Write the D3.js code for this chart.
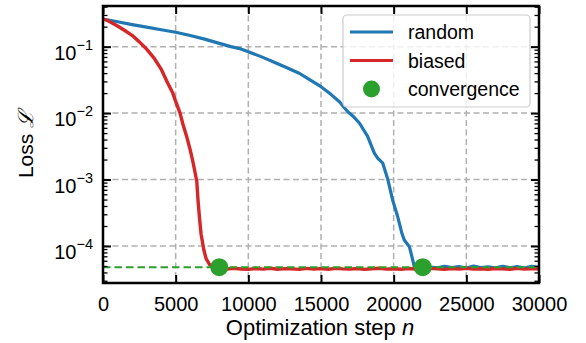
<!DOCTYPE html>
<html><head><meta charset="utf-8">
<script src="https://cdn.jsdelivr.net/npm/d3@7"></script>
<style>body{margin:0;background:#fff}svg{display:block}text{font-family:"Liberation Sans",Arial,sans-serif}</style>
</head><body><svg id="c" width="586" height="343"></svg>
<script>
// ---- data ----
const stepsRandom = [0,1000,2000,3000,4000,5000,6000,7000,8000,8800,9400,10000,11000,11700,12500,13500,14300,15000,15700,16270,16840,17250,17640,18200,18670,18900,19250,19600,19930,20280,20550,20730,21080,21250,21420,21700,22000,22500,23000,23500,24000,24500,25000,25500,26000,26500,27000,27500,28000,28500,29000,29500,30000];
const lossRandom = [0.26,0.237,0.215,0.197,0.18,0.165,0.147,0.13,0.112,0.1,0.0935,0.084,0.069,0.0594,0.05,0.0398,0.031,0.025,0.019,0.0148,0.0105,0.0088,0.0071,0.0045,0.0025,0.0021,0.00176,0.001,0.00049,0.000275,0.00016,0.000123,0.0000977,0.00007,0.000049,0.0000475,0.000047,0.0000482,0.0000468,0.0000495,0.0000472,0.0000488,0.0000466,0.0000498,0.0000474,0.0000486,0.0000469,0.0000493,0.0000471,0.0000489,0.0000467,0.0000496,0.0000476];
const stepsBiased = [0,250,500,1000,1500,2000,2500,3000,3500,4000,4400,4800,5000,5300,5500,5750,6000,6200,6450,6550,6650,6750,6950,7100,7350,7600,8000,8500,9000,9500,10000,10500,11000,11500,12000,12500,13000,13500,14000,14500,15000,15500,16000,16500,17000,17500,18000,18500,19000,19500,20000,20500,21000,21500,22000,22500,23000,23500,24000,24500,25000,25500,26000,26500,27000,27500,28000,28500,29000,29500,30000];
const lossBiased = [0.26,0.25,0.235,0.205,0.175,0.148,0.118,0.092,0.068,0.046,0.03,0.02,0.015,0.01,0.0068,0.0045,0.0028,0.0018,0.00095,0.00045,0.00025,0.00015,0.000085,0.000064,0.000052,0.0000465,0.0000455,0.0000448,0.0000462,0.0000451,0.0000445,0.0000458,0.0000449,0.0000463,0.0000447,0.0000456,0.0000452,0.0000444,0.000046,0.000045,0.0000457,0.0000446,0.0000461,0.0000453,0.0000448,0.0000459,0.0000444,0.0000455,0.0000462,0.0000449,0.0000454,0.0000446,0.0000458,0.0000451,0.0000447,0.000046,0.0000452,0.0000445,0.0000457,0.000045,0.0000463,0.0000448,0.0000455,0.0000446,0.0000459,0.0000452,0.0000444,0.0000461,0.0000449,0.0000456,0.0000451];
const convergenceSteps = [8000, 22000];
const convergenceLoss = [4.8e-5, 4.8e-5];
const thresholdLoss = 4.8e-5;
const xTickValues = [0,5000,10000,15000,20000,25000,30000];
const yTickExponents = [-1,-2,-3,-4];
const seriesNames = ["random","biased","convergence"];
const colors = {random:"#1f77b4", biased:"#d62728", convergence:"#2ca02c"};

// ---- layout ----
const svg = d3.select("#c");
const L = 103, R = 539, T = 6, B = 283;
const x = d3.scaleLinear().domain([0,30000]).range([L,R]);
const y = d3.scaleLog().domain([Math.pow(10,-4.557), Math.pow(10,-0.388)]).range([B,T]);

const defs = svg.append("defs");
defs.append("clipPath").attr("id","clip").append("rect").attr("x",L).attr("y",T).attr("width",R-L).attr("height",B-T);

// grid
const grid = svg.append("g").attr("stroke","#b0b0b0").attr("stroke-width",1.5).attr("stroke-dasharray","6,3.5");
xTickValues.forEach(v=>grid.append("line").attr("x1",x(v)).attr("x2",x(v)).attr("y1",T).attr("y2",B));
yTickExponents.forEach(e=>grid.append("line").attr("x1",L).attr("x2",R).attr("y1",y(Math.pow(10,e))).attr("y2",y(Math.pow(10,e))));

// lines
const line = d3.line().x(d=>x(d[0])).y(d=>y(d[1]));
const plot = svg.append("g").attr("clip-path","url(#clip)");
plot.append("path").datum(d3.zip(stepsRandom,lossRandom)).attr("d",line).attr("fill","none").attr("stroke",colors.random).attr("stroke-width",3.2).attr("stroke-linejoin","round");
plot.append("path").datum(d3.zip(stepsBiased,lossBiased)).attr("d",line).attr("fill","none").attr("stroke",colors.biased).attr("stroke-width",3.4).attr("stroke-linejoin","round");
plot.append("line").attr("x1",L).attr("x2",R).attr("y1",y(thresholdLoss)).attr("y2",y(thresholdLoss)).attr("stroke",colors.convergence).attr("stroke-width",2).attr("stroke-dasharray","7.5,4");
plot.selectAll("circle").data(d3.zip(convergenceSteps,convergenceLoss)).join("circle").attr("cx",d=>x(d[0])).attr("cy",d=>y(d[1])).attr("r",9).attr("fill",colors.convergence);

// axes (ticks inward)
const ax = svg.append("g");
const xb = d3.axisBottom(x).tickValues(xTickValues).tickSize(-8).tickPadding(14).tickFormat(d3.format("d"));
const xt = d3.axisTop(x).tickValues(xTickValues).tickSize(-8).tickFormat("");
const gxb = ax.append("g").attr("transform",`translate(0,${B})`).call(xb);
const gxt = ax.append("g").attr("transform",`translate(0,${T})`).call(xt);
const majors = yTickExponents.map(e=>Math.pow(10,e));
const minors = [];
for (let d=-5; d<=0; d++) for (let k=2;k<=9;k++){const v=k*Math.pow(10,d); if (v>=y.domain()[0] && v<=y.domain()[1]) minors.push(v);}
const yl = d3.axisLeft(y).tickValues(majors).tickSize(-8).tickFormat("");
const yr = d3.axisRight(y).tickValues(majors).tickSize(-8).tickFormat("");
const ylm = d3.axisLeft(y).tickValues(minors).tickSize(-4.5).tickFormat("");
const yrm = d3.axisRight(y).tickValues(minors).tickSize(-4.5).tickFormat("");
const gyl = ax.append("g").attr("transform",`translate(${L},0)`).call(yl);
const gyr = ax.append("g").attr("transform",`translate(${R},0)`).call(yr);
const gylm = ax.append("g").attr("transform",`translate(${L},0)`).call(ylm);
const gyrm = ax.append("g").attr("transform",`translate(${R},0)`).call(yrm);
ax.selectAll(".domain").remove();
ax.selectAll(".tick line").attr("stroke","#000").attr("stroke-width",2);
gylm.selectAll(".tick line").attr("stroke-width",1.3);
gyrm.selectAll(".tick line").attr("stroke-width",1.3);
gxb.selectAll(".tick text").attr("font-size",20).attr("fill","#000").attr("font-family","Liberation Sans, Arial, sans-serif");

// y tick labels
const ylab = svg.append("g");
yTickExponents.forEach(e=>{
  const t = ylab.append("text").attr("x",93).attr("y",y(Math.pow(10,e))+13).attr("text-anchor","end").attr("font-size",20);
  t.append("tspan").text("10");
  t.append("tspan").attr("dy",-10).attr("font-size",14.5).text("\u2212"+Math.abs(e));
});

// frame
svg.append("rect").attr("x",L).attr("y",T).attr("width",R-L).attr("height",B-T).attr("fill","none").attr("stroke","#000").attr("stroke-width",2.5);

// axis labels
const xl = svg.append("text").attr("x",(L+R)/2-1).attr("y",335).attr("text-anchor","middle").attr("font-size",22);
xl.append("tspan").text("Optimization step ");
xl.append("tspan").attr("font-style","italic").text("n");
const yLabel = svg.append("text").attr("transform",`translate(33,${(T+B)/2}) rotate(-90)`).attr("text-anchor","middle").attr("font-size",21);
yLabel.append("tspan").text("Loss ");
yLabel.append("tspan").attr("font-style","italic").attr("font-family","DejaVu Serif, serif").text("\u2112");

// legend
const lg = svg.append("g");
lg.append("rect").attr("x",343).attr("y",15).attr("width",187).attr("height",92).attr("rx",4).attr("fill","#fff").attr("fill-opacity",0.8).attr("stroke","#cccccc").attr("stroke-width",1.2);
const rows = [32, 60.5, 89];
seriesNames.forEach((name,i)=>{
  if (name==="convergence") lg.append("circle").attr("cx",371.5).attr("cy",rows[i]).attr("r",8.5).attr("fill",colors[name]);
  else lg.append("line").attr("x1",350).attr("x2",393).attr("y1",rows[i]).attr("y2",rows[i]).attr("stroke",colors[name]).attr("stroke-width",3.2);
  lg.append("text").attr("x",408).attr("y",rows[i]+7).attr("font-size",19.5).text(name);
});
</script></body></html>
